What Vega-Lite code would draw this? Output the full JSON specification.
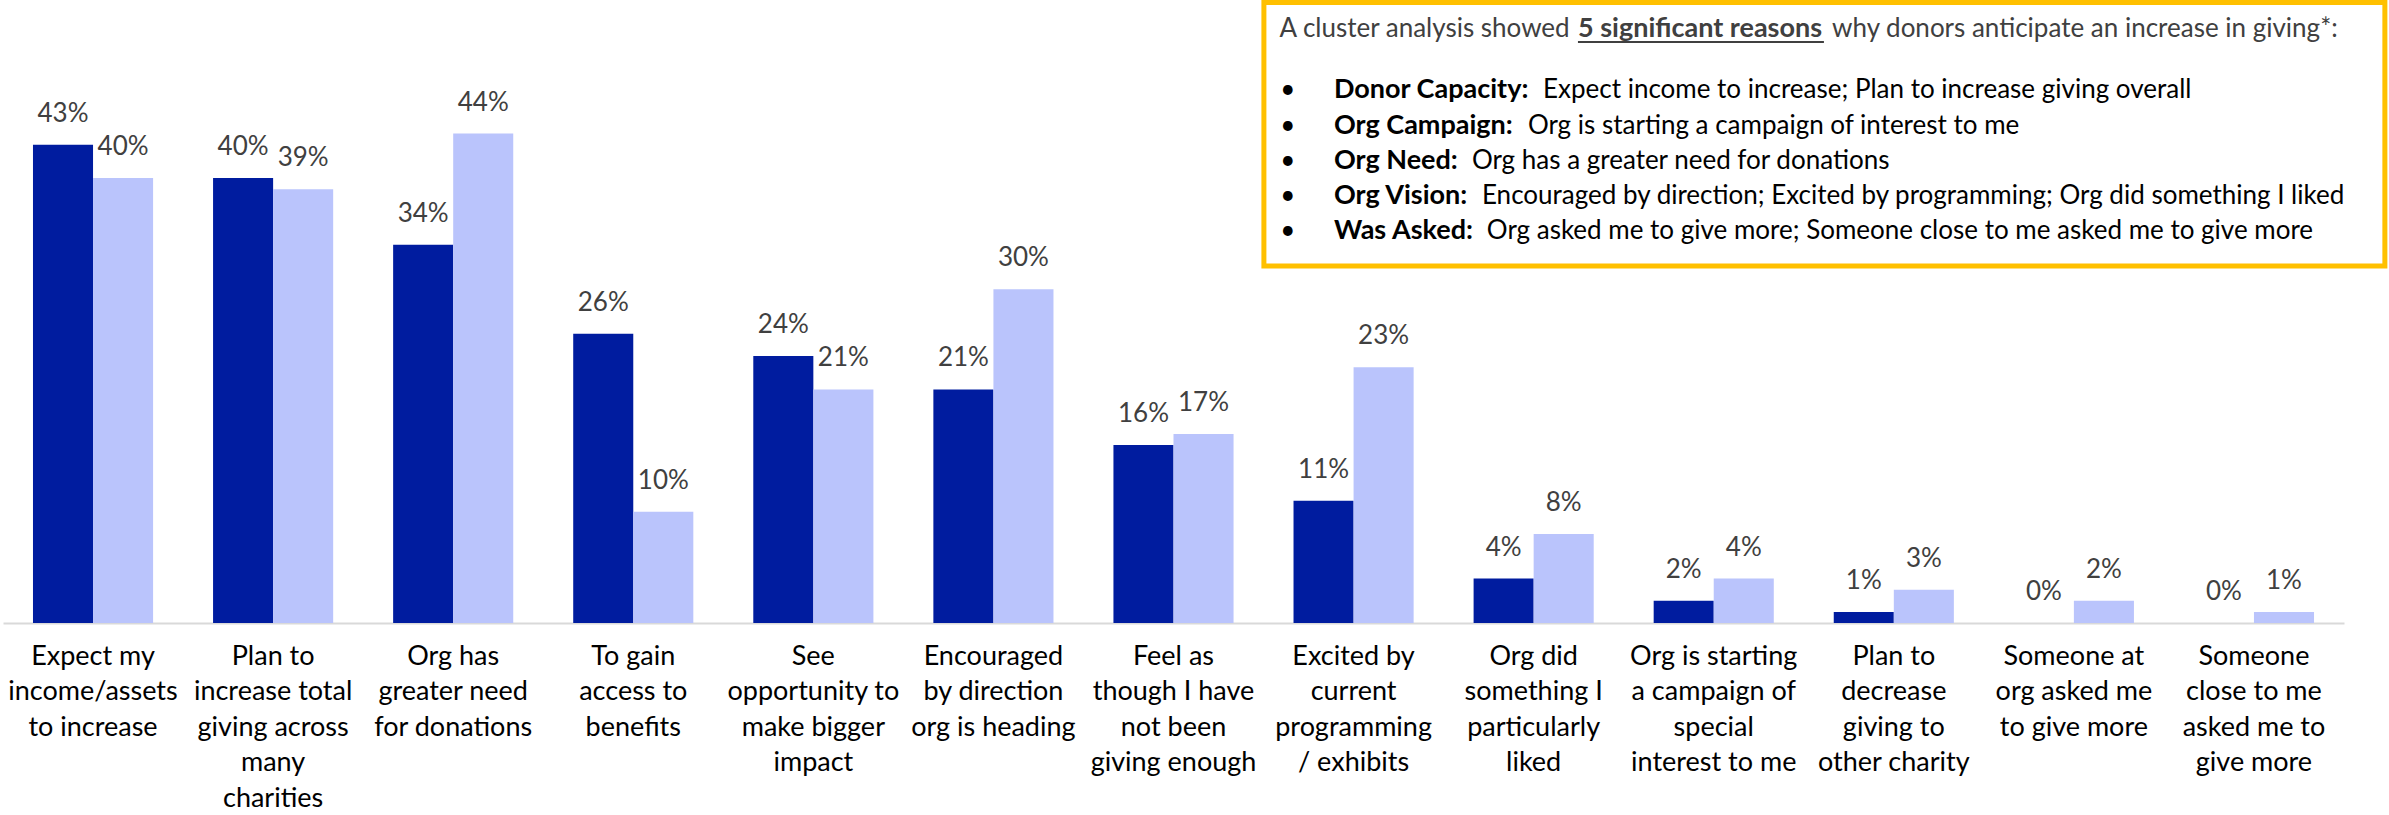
{
  "$schema": "https://vega.github.io/schema/vega-lite/v6.json",
  "width": 2341,
  "height": 623,
  "autosize": {"type": "none"},
  "padding": {"left": 3, "top": 0, "right": 45, "bottom": 192},
  "background": "white",
  "config": {"view": {"stroke": null}, "font": "Lato"},
  "datasets": {
    "reasons": [
      {"reason": "Expect my|income/assets|to increase", "group": "Group 1", "share": 0.43},
      {"reason": "Expect my|income/assets|to increase", "group": "Group 2", "share": 0.40},
      {"reason": "Plan to|increase total|giving across|many|charities", "group": "Group 1", "share": 0.40},
      {"reason": "Plan to|increase total|giving across|many|charities", "group": "Group 2", "share": 0.39},
      {"reason": "Org has|greater need|for donations", "group": "Group 1", "share": 0.34},
      {"reason": "Org has|greater need|for donations", "group": "Group 2", "share": 0.44},
      {"reason": "To gain|access to|benefits", "group": "Group 1", "share": 0.26},
      {"reason": "To gain|access to|benefits", "group": "Group 2", "share": 0.10},
      {"reason": "See|opportunity to|make bigger|impact", "group": "Group 1", "share": 0.24},
      {"reason": "See|opportunity to|make bigger|impact", "group": "Group 2", "share": 0.21},
      {"reason": "Encouraged|by direction|org is heading", "group": "Group 1", "share": 0.21},
      {"reason": "Encouraged|by direction|org is heading", "group": "Group 2", "share": 0.30},
      {"reason": "Feel as|though I have|not been|giving enough", "group": "Group 1", "share": 0.16},
      {"reason": "Feel as|though I have|not been|giving enough", "group": "Group 2", "share": 0.17},
      {"reason": "Excited by|current|programming|/ exhibits", "group": "Group 1", "share": 0.11},
      {"reason": "Excited by|current|programming|/ exhibits", "group": "Group 2", "share": 0.23},
      {"reason": "Org did|something I|particularly|liked", "group": "Group 1", "share": 0.04},
      {"reason": "Org did|something I|particularly|liked", "group": "Group 2", "share": 0.08},
      {"reason": "Org is starting|a campaign of|special|interest to me", "group": "Group 1", "share": 0.02},
      {"reason": "Org is starting|a campaign of|special|interest to me", "group": "Group 2", "share": 0.04},
      {"reason": "Plan to|decrease|giving to|other charity", "group": "Group 1", "share": 0.01},
      {"reason": "Plan to|decrease|giving to|other charity", "group": "Group 2", "share": 0.03},
      {"reason": "Someone at|org asked me|to give more", "group": "Group 1", "share": 0.00},
      {"reason": "Someone at|org asked me|to give more", "group": "Group 2", "share": 0.02},
      {"reason": "Someone|close to me|asked me to|give more", "group": "Group 1", "share": 0.00},
      {"reason": "Someone|close to me|asked me to|give more", "group": "Group 2", "share": 0.01}
    ],
    "frame": [{"left": 7.002, "right": 13.227, "top": 0.5578, "bottom": 0.3209}],
    "underline": [{"from": 8.746, "to": 10.112, "level": 0.5222}],
    "notes": [
      {"kind": "leadEnd", "text": "A cluster analysis showed", "slot": 8.70, "level": 0.5339},
      {"kind": "emph", "text": "5 significant reasons", "slot": 8.746, "level": 0.5339},
      {"kind": "lead", "text": "why donors anticipate an increase in giving*:", "slot": 10.157, "level": 0.5339},
      {"kind": "bullet", "text": "•", "slot": 7.135, "level": 0.4791},
      {"kind": "bullet", "text": "•", "slot": 7.135, "level": 0.4468},
      {"kind": "bullet", "text": "•", "slot": 7.135, "level": 0.4153},
      {"kind": "bullet", "text": "•", "slot": 7.135, "level": 0.3838},
      {"kind": "bullet", "text": "•", "slot": 7.135, "level": 0.3524},
      {"kind": "label", "text": "Donor Capacity:", "slot": 7.391, "level": 0.4791},
      {"kind": "label", "text": "Org Campaign:", "slot": 7.391, "level": 0.4468},
      {"kind": "label", "text": "Org Need:", "slot": 7.391, "level": 0.4153},
      {"kind": "label", "text": "Org Vision:", "slot": 7.391, "level": 0.3838},
      {"kind": "label", "text": "Was Asked:", "slot": 7.391, "level": 0.3524},
      {"kind": "body", "text": "Expect income to increase; Plan to increase giving overall", "slot": 8.552, "level": 0.4791},
      {"kind": "body", "text": "Org is starting a campaign of interest to me", "slot": 8.468, "level": 0.4468},
      {"kind": "body", "text": "Org has a greater need for donations", "slot": 8.157, "level": 0.4153},
      {"kind": "body", "text": "Encouraged by direction; Excited by programming; Org did something I liked", "slot": 8.213, "level": 0.3838},
      {"kind": "body", "text": "Org asked me to give more; Someone close to me asked me to give more", "slot": 8.24, "level": 0.3524}
    ]
  },
  "layer": [
    {
      "data": {"name": "reasons"},
      "encoding": {
        "x": {
          "field": "reason", "type": "nominal", "sort": null,
          "scale": {"paddingInner": 0.333, "paddingOuter": 0.1665},
          "axis": {
            "title": null, "labelExpr": "split(datum.label, '|')", "labelAngle": 0,
            "labelFont": "Lato", "labelFontSize": 27, "labelColor": "#000000",
            "labelLineHeight": 35.5, "labelPadding": 20, "ticks": false,
            "domainColor": "#d9d9d9", "domainWidth": 2, "labelLimit": 0,
            "labelOverlap": false, "labelBound": false, "grid": false
          }
        },
        "xOffset": {"field": "group", "type": "nominal", "sort": ["Group 1", "Group 2"]},
        "y": {"field": "share", "type": "quantitative", "scale": {"domain": [0, 0.56], "nice": false}, "axis": null}
      },
      "layer": [
        {
          "mark": {"type": "bar"},
          "encoding": {
            "color": {"field": "group", "type": "nominal", "sort": ["Group 1", "Group 2"], "scale": {"range": ["#001c9f", "#bac4fc"]}, "legend": null}
          }
        },
        {
          "mark": {"type": "text", "dy": -23, "baseline": "alphabetic", "fontSize": 26, "font": "Lato", "color": "#404040"},
          "encoding": {"text": {"field": "share", "type": "quantitative", "format": ".0%"}}
        }
      ]
    },
    {
      "layer": [
        {
          "data": {"name": "frame"},
          "mark": {"type": "rect", "fill": "transparent", "stroke": "#ffc000", "strokeWidth": 5},
          "encoding": {
            "x": {"field": "left", "type": "quantitative", "scale": {"domain": [0, 13], "nice": false, "zero": false}, "axis": null},
            "x2": {"field": "right"},
            "y": {"field": "top", "type": "quantitative", "scale": {"domain": [0, 0.56], "nice": false}, "axis": null},
            "y2": {"field": "bottom"}
          }
        },
        {
          "data": {"name": "underline"},
          "mark": {"type": "rule", "stroke": "#404040", "strokeWidth": 2},
          "encoding": {
            "x": {"field": "from", "type": "quantitative", "scale": {"domain": [0, 13], "nice": false, "zero": false}, "axis": null},
            "x2": {"field": "to"},
            "y": {"field": "level", "type": "quantitative", "scale": {"domain": [0, 0.56], "nice": false}, "axis": null}
          }
        },
        {
          "data": {"name": "notes"},
          "transform": [{"filter": "datum.kind == 'leadEnd'"}],
          "mark": {"type": "text", "align": "right", "baseline": "middle", "font": "Lato", "fontSize": 26, "color": "#404040"},
          "encoding": {
            "x": {"field": "slot", "type": "quantitative", "scale": {"domain": [0, 13], "nice": false, "zero": false}, "axis": null},
            "y": {"field": "level", "type": "quantitative", "scale": {"domain": [0, 0.56], "nice": false}, "axis": null},
            "text": {"field": "text"}
          }
        },
        {
          "data": {"name": "notes"},
          "transform": [{"filter": "datum.kind == 'lead'"}],
          "mark": {"type": "text", "align": "left", "baseline": "middle", "font": "Lato", "fontSize": 26, "color": "#404040"},
          "encoding": {
            "x": {"field": "slot", "type": "quantitative", "scale": {"domain": [0, 13], "nice": false, "zero": false}, "axis": null},
            "y": {"field": "level", "type": "quantitative", "scale": {"domain": [0, 0.56], "nice": false}, "axis": null},
            "text": {"field": "text"}
          }
        },
        {
          "data": {"name": "notes"},
          "transform": [{"filter": "datum.kind == 'emph'"}],
          "mark": {"type": "text", "align": "left", "baseline": "middle", "font": "Lato", "fontSize": 27, "fontWeight": "bold", "color": "#404040"},
          "encoding": {
            "x": {"field": "slot", "type": "quantitative", "scale": {"domain": [0, 13], "nice": false, "zero": false}, "axis": null},
            "y": {"field": "level", "type": "quantitative", "scale": {"domain": [0, 0.56], "nice": false}, "axis": null},
            "text": {"field": "text"}
          }
        },
        {
          "data": {"name": "notes"},
          "transform": [{"filter": "datum.kind == 'bullet'"}],
          "mark": {"type": "text", "align": "center", "baseline": "middle", "font": "Lato", "fontSize": 26, "color": "#000000"},
          "encoding": {
            "x": {"field": "slot", "type": "quantitative", "scale": {"domain": [0, 13], "nice": false, "zero": false}, "axis": null},
            "y": {"field": "level", "type": "quantitative", "scale": {"domain": [0, 0.56], "nice": false}, "axis": null},
            "text": {"field": "text"}
          }
        },
        {
          "data": {"name": "notes"},
          "transform": [{"filter": "datum.kind == 'label'"}],
          "mark": {"type": "text", "align": "left", "baseline": "middle", "font": "Lato", "fontSize": 27, "fontWeight": "bold", "color": "#000000"},
          "encoding": {
            "x": {"field": "slot", "type": "quantitative", "scale": {"domain": [0, 13], "nice": false, "zero": false}, "axis": null},
            "y": {"field": "level", "type": "quantitative", "scale": {"domain": [0, 0.56], "nice": false}, "axis": null},
            "text": {"field": "text"}
          }
        },
        {
          "data": {"name": "notes"},
          "transform": [{"filter": "datum.kind == 'body'"}],
          "mark": {"type": "text", "align": "left", "baseline": "middle", "font": "Lato", "fontSize": 26, "color": "#000000"},
          "encoding": {
            "x": {"field": "slot", "type": "quantitative", "scale": {"domain": [0, 13], "nice": false, "zero": false}, "axis": null},
            "y": {"field": "level", "type": "quantitative", "scale": {"domain": [0, 0.56], "nice": false}, "axis": null},
            "text": {"field": "text"}
          }
        }
      ]
    }
  ],
  "resolve": {"scale": {"x": "independent"}}
}
